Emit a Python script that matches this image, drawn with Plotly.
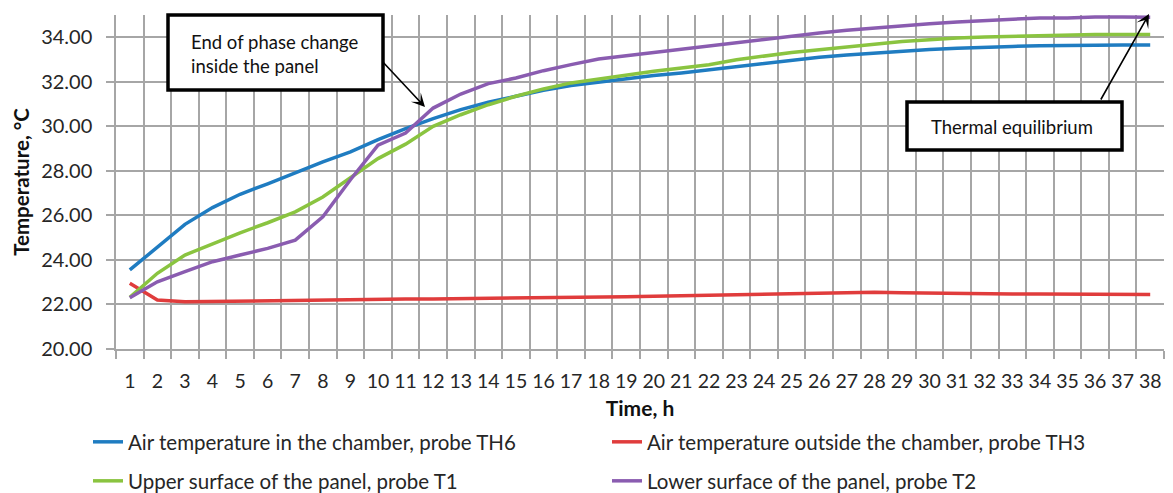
import plotly.graph_objects as go

# Hourly temperature records, °C
hours = list(range(1, 39))
hour_labels = [str(h) for h in hours]

th6_chamber_air = [23.55, 24.60, 25.60, 26.35, 26.95, 27.42, 27.92, 28.40, 28.85, 29.40,
                   29.90, 30.35, 30.75, 31.08, 31.35, 31.62, 31.83, 31.99, 32.14, 32.28,
                   32.40, 32.54, 32.69, 32.80, 32.97, 33.10, 33.20, 33.29, 33.38, 33.45,
                   33.51, 33.56, 33.59, 33.62, 33.64, 33.65, 33.65, 33.65]
th3_outside_air = [22.95, 22.20, 22.12, 22.14, 22.15, 22.16, 22.17, 22.18, 22.20, 22.22,
                   22.24, 22.25, 22.26, 22.27, 22.28, 22.30, 22.31, 22.33, 22.35, 22.37,
                   22.39, 22.41, 22.43, 22.45, 22.47, 22.49, 22.53, 22.55, 22.53, 22.51,
                   22.49, 22.48, 22.47, 22.47, 22.46, 22.45, 22.45, 22.45]
t1_upper_surface = [22.32, 23.40, 24.22, 24.74, 25.22, 25.67, 26.16, 26.83, 27.70, 28.55,
                    29.20, 30.00, 30.52, 30.97, 31.35, 31.68, 31.95, 32.13, 32.28, 32.47,
                    32.62, 32.77, 32.99, 33.15, 33.32, 33.44, 33.56, 33.66, 33.81, 33.89,
                    33.97, 34.01, 34.04, 34.09, 34.10, 34.12, 34.12, 34.12]
t2_lower_surface = [22.30, 23.02, 23.47, 23.92, 24.22, 24.52, 24.89, 25.94, 27.60, 29.15,
                    29.70, 30.82, 31.45, 31.92, 32.17, 32.50, 32.77, 33.02, 33.17, 33.32,
                    33.47, 33.59, 33.77, 33.92, 34.07, 34.19, 34.31, 34.42, 34.52, 34.61,
                    34.69, 34.75, 34.82, 34.87, 34.87, 34.91, 34.91, 34.90]

y_ticks = [20, 22, 24, 26, 28, 30, 32, 34]

W, H = 1173, 493
M_L, M_R, M_T, M_B = 116, 9, 15, 144
PW, PH = W - M_L - M_R, H - M_T - M_B

FONT = "Lato"
GRID = "#a6a6a6"
TEXT = "#262626"


def px(xp, yp):
    """Pixel position on the page -> paper coordinates."""
    return (xp - M_L) / PW, (H - M_B - yp) / PH


series = [
    ("Air temperature in the chamber, probe TH6", th6_chamber_air, "#1f7cc1", "legend"),
    ("Air temperature outside the chamber, probe TH3", th3_outside_air, "#e03c3c", "legend"),
    ("Upper surface of the panel, probe T1", t1_upper_surface, "#8ac440", "legend2"),
    ("Lower surface of the panel, probe T2", t2_lower_surface, "#8a5cb0", "legend2"),
]

fig = go.Figure()
for name, vals, color, leg in series:
    fig.add_trace(go.Scatter(x=hours, y=vals, mode="lines", name=name,
                             line=dict(color=color, width=3.5), legend=leg))

fig.update_xaxes(
    range=[0.5, 38.5], tickmode="array", tickvals=hours, ticktext=hour_labels,
    showgrid=False, ticks="outside", ticklen=14, tickcolor="rgba(0,0,0,0)",
    tickfont=dict(family=FONT, size=19.5, color=TEXT),
    showline=True, linecolor=GRID, linewidth=1.5, zeroline=False,
    minor=dict(tickmode="array", tickvals=[h + 0.5 for h in range(0, 39)],
               showgrid=True, gridcolor=GRID, gridwidth=1.5,
               ticks="outside", ticklen=8, tickcolor=GRID, tickwidth=1.5),
    title=dict(text="<b>Time, h</b>", font=dict(family=FONT, size=21, color="#111"),
               standoff=10),
)
fig.update_yaxes(
    range=[20, 35], tickmode="array", tickvals=y_ticks,
    ticktext=[f"{v:.2f}" for v in y_ticks],
    showgrid=True, gridcolor=GRID, gridwidth=1.5, zeroline=False,
    showline=True, linecolor=GRID, linewidth=1.5,
    ticks="outside", ticklen=8, tickcolor=GRID, tickwidth=1.5,
    ticklabelstandoff=10,
    tickfont=dict(family=FONT, size=20, color=TEXT),
    title=dict(text="<b>Temperature, °C</b>", font=dict(family=FONT, size=20.5, color="#111"),
               standoff=6),
)

shapes = []
annotations = []


def callout(x0, y0, x1, y1, text, tx, ty, align, xanchor):
    """Framed text box drawn on top of the plot area."""
    a, b = px(x0, y0)
    c, d = px(x1, y1)
    shapes.append(dict(type="rect", xref="paper", yref="paper", x0=a, y0=b, x1=c, y1=d,
                       line=dict(color="black", width=3.5), fillcolor="white", layer="above"))
    ex, ey = px(tx, ty)
    annotations.append(dict(xref="paper", yref="paper", x=ex, y=ey, text=text,
                            showarrow=False, xanchor=xanchor, yanchor="middle", align=align,
                            font=dict(family=FONT, size=18.5, color="#111")))


def arrow(x0, y0, x1, y1):
    """Arrow from (x0, y0) to the head at (x1, y1), page pixels."""
    a, b = px(x1, y1)
    annotations.append(dict(xref="paper", yref="paper", x=a, y=b,
                            ax=x0 - x1, ay=y0 - y1, axref="pixel", ayref="pixel",
                            text="", showarrow=True,
                            arrowhead=3, arrowsize=1.4, arrowwidth=1.6, arrowcolor="black"))


callout(168, 15, 383, 90, "End of phase change<br>inside the panel", 189, 54, "left", "left")
callout(907, 102, 1122, 150, "Thermal equilibrium", 1012, 127, "center", "center")
arrow(381, 60, 425, 107)
arrow(1100, 101, 1149, 14)

legend_style = dict(orientation="h", xref="container", yref="container",
                    x=88 / W, xanchor="left", yanchor="middle",
                    entrywidthmode="pixels", entrywidth=474,
                    font=dict(family=FONT, size=20.5, color=TEXT), itemwidth=30)

fig.update_layout(
    width=W, height=H,
    margin=dict(l=M_L, r=M_R, t=M_T, b=M_B, autoexpand=False),
    plot_bgcolor="white", paper_bgcolor="white",
    shapes=shapes, annotations=annotations,
    legend=dict(legend_style, y=1 - 442 / H),
    legend2=dict(legend_style, y=1 - 481 / H),
    showlegend=True,
)

fig.write_html("out.html")
